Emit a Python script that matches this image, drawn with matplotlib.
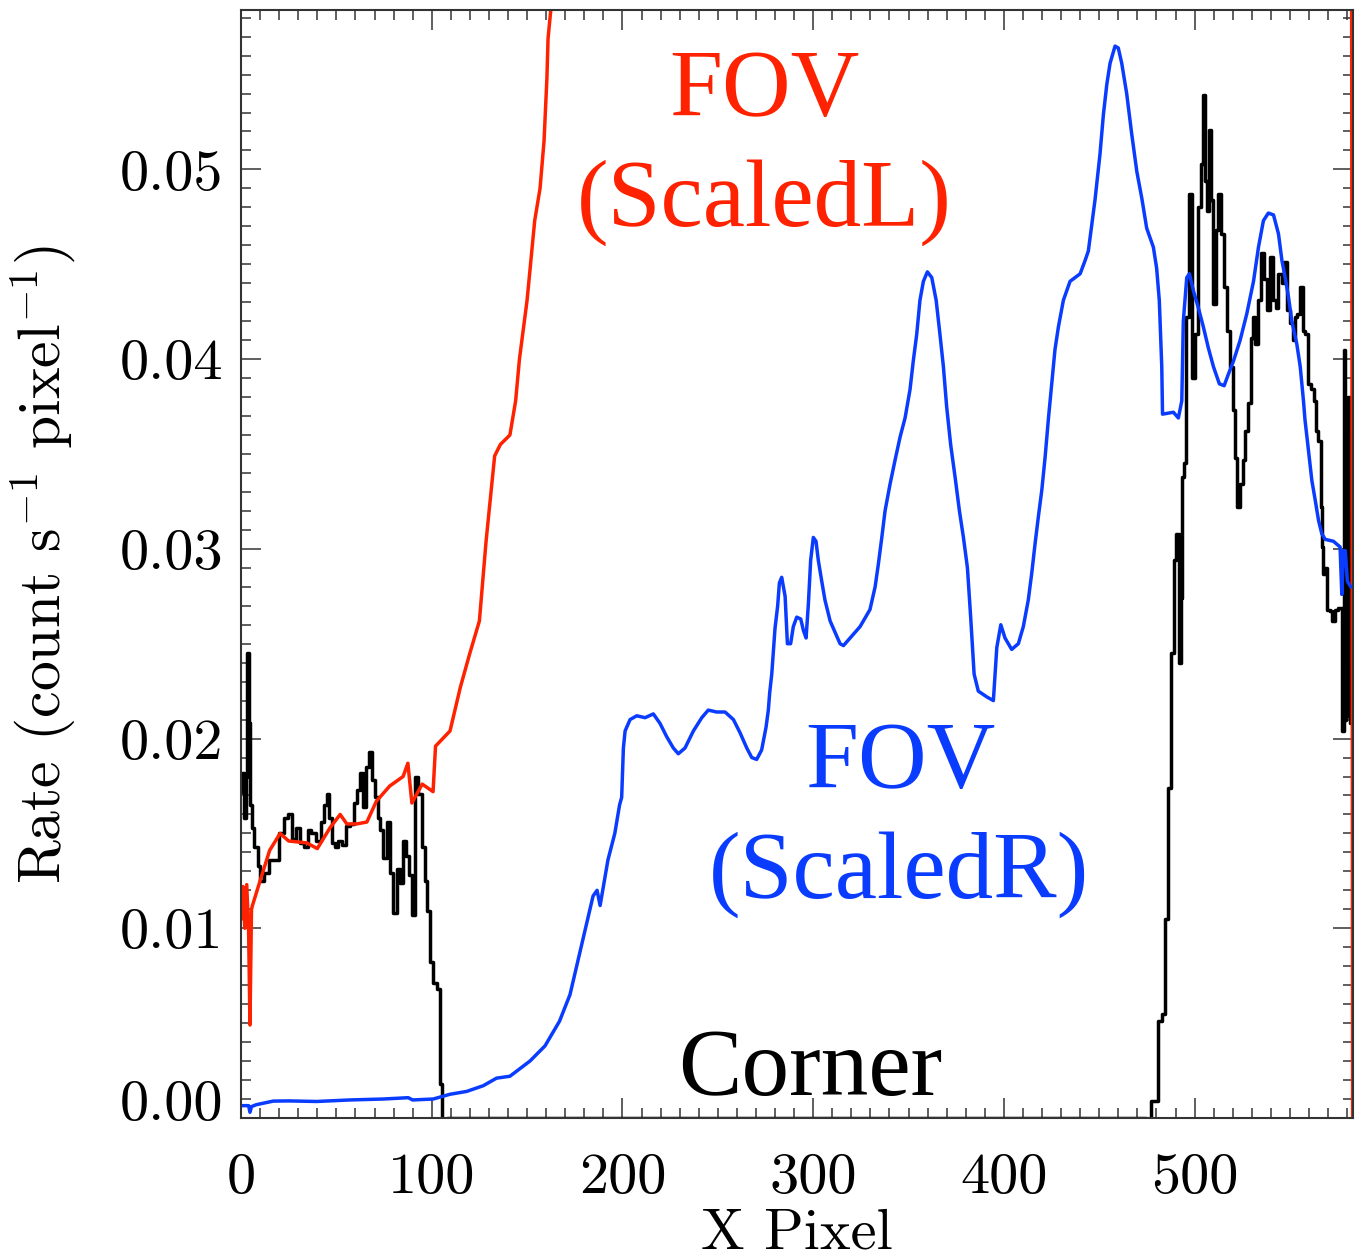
import numpy as np
import matplotlib.pyplot as plt
import matplotlib.transforms as mtransforms
from matplotlib.ticker import MultipleLocator, FixedLocator, FixedFormatter

plt.rcParams['mathtext.fontset'] = 'cm'
plt.rcParams['axes.formatter.use_mathtext'] = True

# FOV (ScaledL) rate profile
x_fovl = [0, 1, 2, 3, 4, 4.7, 5.5, 6, 10, 15, 20.5, 25, 34.5, 40, 46.7, 52, 55.5,
          60.7, 66, 71, 78, 85, 87.5, 89.6, 95, 100.7, 102, 109.6, 115, 120, 125,
          128.5, 133, 136, 141, 144, 146, 150, 154, 156.8, 158.9, 160.4, 161, 163,
          170, 200, 300, 400, 500, 582, 582.9]
y_fovl = [0.0105, 0.0122, 0.0100, 0.0123, 0.0098, 0.0049, 0.0110, 0.0112, 0.0125,
          0.0141, 0.0150, 0.0146, 0.0145, 0.0142, 0.0153, 0.0160, 0.0155, 0.0155,
          0.0156, 0.0167, 0.0175, 0.0180, 0.0187, 0.0166, 0.0176, 0.0172, 0.0196,
          0.0204, 0.0227, 0.0245, 0.0262, 0.0304, 0.0349, 0.0355, 0.0360, 0.0378,
          0.0400, 0.0431, 0.0473, 0.0490, 0.0515, 0.0548, 0.0569, 0.0590,
          0.075, 0.12, 0.20, 0.20, 0.15, 0.10, -0.002]

# FOV (ScaledR) rate profile
x_fovr = [0, 4, 4.7, 5.5, 8, 11.7, 16.9, 25, 39.7, 57, 74.6, 87.7, 90, 100.8, 109.6,
          118.3, 127, 134, 141, 151.5, 159.4, 167, 172.5, 176.7, 180.4, 184.6, 186.7,
          188.3, 192.4, 196, 198.5, 199.6, 200.5, 201.4, 204, 207.5, 211.9, 216.2,
          219.7, 223.2, 226.7, 229.3, 232.8, 237.2, 241.6, 245, 249.4, 253.8, 258.2,
          261.7, 265.2, 267.8, 270.4, 273, 275.3, 276.5, 277.2, 278.3, 279.1, 280,
          281.4, 282.3, 283.5, 285.3, 286.5, 288.2, 289.6, 291.4, 293.5, 294.9, 296.3,
          297.5, 298.7, 300.1, 301.5, 302.7, 304.5, 306.2, 308.9, 311.5, 314.1, 315.9,
          318.5, 324.6, 329.8, 332.5, 334.2, 336, 337.7, 340.3, 343, 345.6, 348.2,
          350.8, 352.5, 354.3, 356, 357.8, 359.9, 362.2, 364.5, 366.5, 368.3, 370,
          372.1, 374.4, 376.7, 378.8, 380.9, 382.6, 384.4, 386.6, 391, 394.5, 396.3,
          398.4, 400.6, 404.1, 407.6, 410.2, 412.8, 414.6, 416.4, 418.1, 419.9, 421.6,
          423.4, 425.1, 426.8, 428.6, 431.2, 434.7, 440, 442.6, 444.3, 447.8, 450.4,
          452.2, 454, 455.7, 458.3, 460, 461.8, 464.4, 467, 469.7, 472.3, 474.9, 478.4,
          480.1, 481.5, 482.8, 483.2, 488.9, 491.5, 493.3, 494.1, 495.9, 497.3, 499.4,
          502, 504.6, 507.2, 509.9, 513, 515.5, 517.7, 520.4, 523.9, 527.4, 530.9,
          533.5, 536.1, 538.7, 541.4, 544, 545.8, 547.5, 549.2, 551, 553.6, 555.4,
          557.1, 557.9, 559.7, 561.5, 563.2, 565, 566.7, 568.5, 572.8, 576.3, 577.2,
          578, 579, 580.1, 581.9]
y_fovr = [0.00065, 0.00065, 0.0003, 0.0006, 0.0007, 0.00078, 0.00089, 0.0009, 0.00087,
          0.00095, 0.0010, 0.00107, 0.00095, 0.0010, 0.00125, 0.0014, 0.0017, 0.0021,
          0.0022, 0.0030, 0.0038, 0.0051, 0.0065, 0.0083, 0.0099, 0.0117, 0.0120,
          0.0112, 0.0136, 0.0150, 0.0165, 0.0169, 0.0195, 0.0204, 0.0210, 0.0212,
          0.0211, 0.0213, 0.0208, 0.0201, 0.0195, 0.0192, 0.0195, 0.0204, 0.0211,
          0.0215, 0.0214, 0.0214, 0.0210, 0.0203, 0.0195, 0.0190, 0.0189, 0.0194,
          0.0206, 0.0215, 0.0224, 0.0234, 0.0245, 0.0258, 0.0270, 0.0282, 0.0285,
          0.0275, 0.0250, 0.0250, 0.0259, 0.0264, 0.0263, 0.0257, 0.0253, 0.0271,
          0.0294, 0.0306, 0.0304, 0.0294, 0.0283, 0.0273, 0.0262, 0.0256, 0.0250,
          0.0249, 0.0252, 0.0259, 0.0268, 0.0280, 0.0292, 0.0306, 0.0320, 0.0334,
          0.0347, 0.0359, 0.0369, 0.0384, 0.0399, 0.0413, 0.0431, 0.0441, 0.0446,
          0.0443, 0.0431, 0.0413, 0.0396, 0.0375, 0.0355, 0.0338, 0.0320, 0.0306,
          0.0290, 0.0264, 0.0234, 0.0225, 0.0222, 0.0220, 0.0248, 0.0260, 0.0253,
          0.0247, 0.0250, 0.0259, 0.0273, 0.0287, 0.0303, 0.0317, 0.0331, 0.0348,
          0.0369, 0.0387, 0.0405, 0.0417, 0.0431, 0.0441, 0.0445, 0.0452, 0.0457,
          0.0484, 0.0508, 0.0529, 0.0545, 0.0556, 0.0565, 0.0564, 0.0556, 0.0540,
          0.0519, 0.0499, 0.0485, 0.0469, 0.0459, 0.0448, 0.0431, 0.0396, 0.0371,
          0.0372, 0.0369, 0.0378, 0.0420, 0.0443, 0.0445, 0.0436, 0.0427, 0.0417,
          0.0406, 0.0396, 0.0387, 0.0386, 0.0392, 0.0399, 0.0410, 0.0424, 0.0441,
          0.0459, 0.0473, 0.0477, 0.0476, 0.0466, 0.0452, 0.0443, 0.0433, 0.0420,
          0.0408, 0.0396, 0.0378, 0.0368, 0.0352, 0.0336, 0.0326, 0.0315, 0.0308,
          0.0305, 0.0304, 0.0301, 0.0276, 0.0299, 0.0299, 0.0283, 0.0280]

# Corner rate profile
x_corner = [0, 1, 2, 3, 3.8, 4.5, 5.3, 5.8, 8.2, 9.5, 10.8, 13.5, 16.1, 18.7, 21.3,
            24, 25.7, 27.4, 30, 32, 34.4, 36, 37.8, 40.4, 43, 44.5, 45.8, 47, 48.4,
            50.2, 52, 53.7, 56.3, 58, 60, 61.5, 63.3, 65, 66.5, 67.6, 69.4, 71.1,
            72.4, 73.8, 75.5, 77.2, 79, 80.8, 82.5, 84.3, 86, 87.4, 88.6, 90.4, 92.1,
            93.9, 95.6, 97, 98.2, 100, 101.7, 103.5, 104.7, 105.6, 106.5, 109.6, 474,
            475, 479.3, 481.9, 483.5, 485, 487.2, 488.5, 489.8, 491, 492.4, 493.2,
            494.1, 495, 496.1, 497.6, 499.4, 500.8, 502.9, 503.8, 505, 506, 507,
            507.8, 509, 510.8, 511.6, 513.4, 514.5, 516, 517.7, 519.5, 520.4, 521.5,
            523, 524.7, 526, 527.4, 529.1, 529.9, 531, 532.6, 534.3, 535.7, 537,
            538.7, 540.4, 541.8, 543.1, 544.8, 546.6, 547.5, 549.2, 551, 552, 553,
            554.4, 556.2, 557, 558.8, 560.2, 562.3, 563, 564.1, 565.5, 566.7, 567.2,
            567.5, 569, 570.2, 571.5, 572.8, 574.5, 576.3, 578, 578.6, 579.2, 579.8,
            580.4, 581, 581.6, 582.2, 582.8]
y_corner = [0.0172, 0.0182, 0.0158, 0.0180, 0.0245, 0.0208, 0.0165, 0.0153, 0.0143,
            0.0133, 0.0125, 0.0129, 0.0136, 0.0136, 0.0150, 0.0158, 0.0160, 0.0147,
            0.0153, 0.0145, 0.0143, 0.0152, 0.0150, 0.0146, 0.0156, 0.0165, 0.0171,
            0.0158, 0.0145, 0.0143, 0.0146, 0.0144, 0.0154, 0.0155, 0.0166, 0.0173,
            0.0182, 0.0164, 0.0185, 0.0193, 0.0178, 0.0169, 0.0158, 0.0152, 0.0137,
            0.0156, 0.0129, 0.0108, 0.0131, 0.0124, 0.0146, 0.0138, 0.0128, 0.0107,
            0.0180, 0.0171, 0.0143, 0.0125, 0.0109, 0.0082, 0.0071, 0.0068, 0.0018,
            0.0, -0.0008, 0.0, 0.0, -0.0008, 0.0009, 0.0051, 0.0055, 0.0105, 0.0174,
            0.0245, 0.0294, 0.0308, 0.0240, 0.0274, 0.0338, 0.0345, 0.0422, 0.0487,
            0.0390, 0.0413, 0.0480, 0.0503, 0.0539, 0.0494, 0.0478, 0.0521, 0.0484,
            0.0429, 0.0468, 0.0487, 0.0466, 0.0438, 0.0415, 0.0396, 0.0373, 0.0348,
            0.0322, 0.0334, 0.0347, 0.0362, 0.0377, 0.0411, 0.0422, 0.0408, 0.0431,
            0.0456, 0.0442, 0.0426, 0.0454, 0.0431, 0.0427, 0.0445, 0.0440, 0.0451,
            0.0426, 0.0419, 0.0410, 0.0422, 0.0424, 0.0438, 0.0415, 0.0413, 0.0387,
            0.0384, 0.0378, 0.0362, 0.0357, 0.0322, 0.0301, 0.0287, 0.0290, 0.0268,
            0.0267, 0.0262, 0.0268, 0.0269, 0.0204, 0.0405, 0.0210, 0.0365, 0.0212,
            0.0380, 0.0208, 0.0362, 0.0225]

y_ticks = [0.00, 0.01, 0.02, 0.03, 0.04, 0.05]
y_ticklabels = ['0.00', '0.01', '0.02', '0.03', '0.04', '0.05']
x_ticks = [0, 100, 200, 300, 400, 500]
x_ticklabels = ['0', '100', '200', '300', '400', '500']

RED = '#ff2200'
BLUE = '#0a3cff'

fig = plt.figure(figsize=(13.67, 12.58), dpi=100)
ax = fig.add_axes([0.1763, 0.1113, 0.8135, 0.8807])

ax.plot(x_corner, y_corner, color='black', lw=2.5, drawstyle='steps-mid')
ax.plot(x_fovl, y_fovl, color=RED, lw=2.5)
ax.plot(x_fovr, y_fovr, color=BLUE, lw=2.5)

ax.set_xlim(0, 583.1)
ax.set_ylim(0, 0.0584)

ax.xaxis.set_major_locator(FixedLocator(x_ticks))
ax.xaxis.set_major_formatter(FixedFormatter(x_ticklabels))
ax.xaxis.set_minor_locator(MultipleLocator(10))
ax.yaxis.set_major_locator(FixedLocator(y_ticks))
ax.yaxis.set_major_formatter(FixedFormatter(y_ticklabels))
ax.yaxis.set_minor_locator(MultipleLocator(0.001))

ax.tick_params(which='both', direction='in', top=True, right=True, width=1.1,
               color='#333333')
ax.tick_params(which='major', length=14.5)
ax.tick_params(which='minor', length=7.2)
ax.tick_params(axis='x', which='major', pad=25, labelsize=42)
ax.tick_params(axis='y', which='major', pad=13, labelsize=42)
for lab in ax.get_xticklabels() + ax.get_yticklabels():
    lab.set_fontfamily('cmr10')
# lift the lowest y label clear of the x axis
lift = mtransforms.ScaledTranslation(0, 13 / 72, fig.dpi_scale_trans)
ylab0 = ax.get_yticklabels()[0]
ylab0.set_transform(ylab0.get_transform() + lift)

for sp in ax.spines.values():
    sp.set_linewidth(1.5)
    sp.set_color('#333333')

ax.set_xlabel('X Pixel', fontsize=42, family='cmr10')
ax.xaxis.label.set_verticalalignment('baseline')
ax.xaxis.set_label_coords(0.5, -0.1175)
ax.set_ylabel('Rate (count s$^{-1}$ pixel$^{-1}$)', fontsize=43, family='cmr10')
ax.yaxis.set_label_coords(-0.1466, 0.5)

txt = dict(fontsize=68.5, family='Liberation Serif', ha='center', va='baseline')
ax.text(274.3, 0.05284, 'FOV', color=RED, **txt)
ax.text(274.3, 0.04704, '(ScaledL)', color=RED, **txt)
ax.text(345.6, 0.01742, 'FOV', color=BLUE, **txt)
ax.text(345.0, 0.01162, '(ScaledR)', color=BLUE, **txt)
ax.text(298.6, 0.00119, 'Corner', color='black', **txt)

fig.savefig('out.png', dpi=100)
